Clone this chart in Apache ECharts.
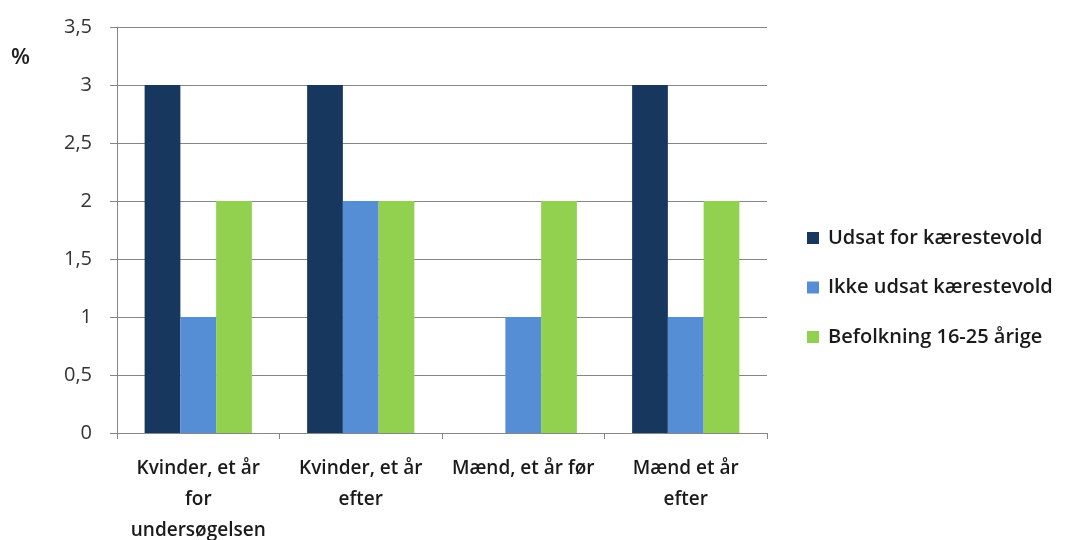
<!DOCTYPE html>
<html><head><meta charset="utf-8">
<script src="https://cdn.jsdelivr.net/npm/echarts@6/dist/echarts.min.js"></script>
<style>html,body{margin:0;padding:0;background:#fff}#c{width:1079px;height:540px}</style>
</head><body><div id="c"></div>
<script>
const categories = ["Kvinder, et år\nfor\nundersøgelsen", "Kvinder, et år\nefter", "Mænd, et år før", "Mænd et år\nefter"];
const seriesNames = ["Udsat for kærestevold", "Ikke udsat kærestevold", "Befolkning 16-25 årige"];
const udsat = [3, 3, null, 3];
const ikkeUdsat = [1, 2, 1, 1];
const befolkning = [2, 2, 2, 2];
const colors = ["#17375E", "#558ED5", "#92D050"];
const font = "Open Sans";
const chart = echarts.init(document.getElementById('c'));
chart.setOption({
  animation: false,
  color: colors,
  textStyle: {fontFamily: font},
  grid: {left: 117, right: 312, top: 27, bottom: 107, containLabel: false, outerBoundsMode: 'none'},
  graphic: [{type: 'text', left: 11, top: 47, style: {text: '%', font: '600 22px "Open Sans"', fill: '#222'}}],
  legend: {
    orient: 'vertical', left: 802, top: 223, itemWidth: 12, itemHeight: 12, itemGap: 29.5,
    icon: 'rect',
    textStyle: {fontFamily: font, fontSize: 20, fontWeight: 600, color: '#1a1a1a', padding: [0,0,0,4]},
    data: seriesNames
  },
  xAxis: {
    type: 'category', data: categories,
    axisLine: {lineStyle: {color: '#868686', width: 1}},
    axisTick: {show: true, length: 6, lineStyle: {color: '#868686'}},
    axisLabel: {fontFamily: font, fontSize: 19, fontWeight: 600, color: '#1a1a1a', lineHeight: 31, margin: 20, interval: 0}
  },
  yAxis: {
    type: 'value', min: 0, max: 3.5, interval: 0.5,
    axisLine: {show: true, lineStyle: {color: '#868686', width: 1}},
    axisTick: {show: true, length: 7, lineStyle: {color: '#868686'}},
    splitLine: {lineStyle: {color: '#868686', width: 1}},
    axisLabel: {fontFamily: font, fontSize: 20, color: '#333', margin: 25,
      formatter: v => String(v).replace('.', ',')}
  },
  series: [
    {name: seriesNames[0], type: 'bar', data: udsat, barGap: '0%', barCategoryGap: '34%'},
    {name: seriesNames[1], type: 'bar', data: ikkeUdsat, barGap: '0%', barCategoryGap: '34%'},
    {name: seriesNames[2], type: 'bar', data: befolkning, barGap: '0%', barCategoryGap: '34%'}
  ]
});
</script></body></html>
